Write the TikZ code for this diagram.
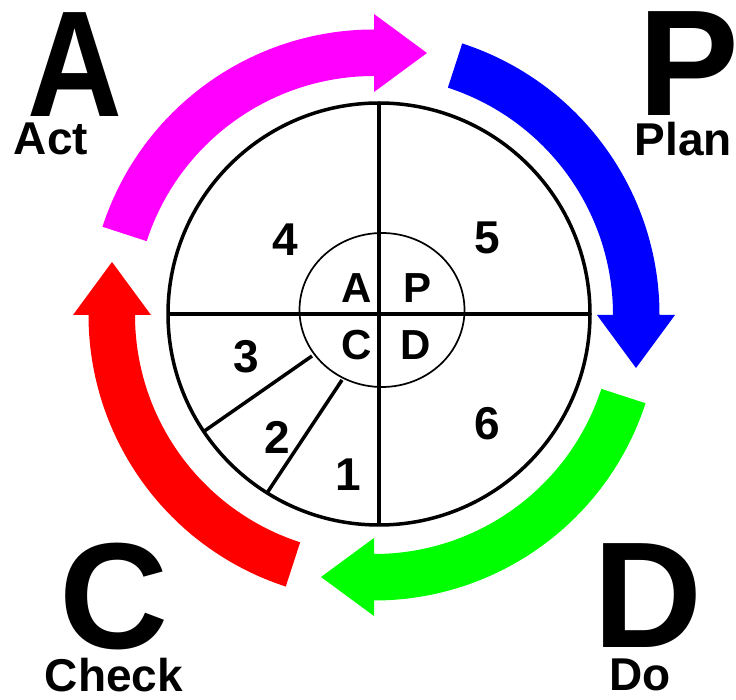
\documentclass[tikz,border=0pt]{standalone}
\usepackage{fontspec}
\setmainfont{Liberation Sans}
\usetikzlibrary{calc}
\definecolor{cM}{RGB}{255,0,255}
\definecolor{cB}{RGB}{0,0,255}
\definecolor{cG}{RGB}{0,255,0}
\definecolor{cR}{RGB}{255,0,0}
\begin{document}
\begin{tikzpicture}[x=1pt,y=1pt,
  lbl/.style={inner sep=0pt, font=\bfseries\fontsize{46}{50}\selectfont},
  quad/.style={inner sep=0pt, font=\bfseries\fontsize{42}{46}\selectfont},
  big/.style={inner sep=0pt, font=\bfseries\fontsize{151}{160}\selectfont},
  heavy/.style={line width=3.5pt},
  light/.style={line width=1.7pt}]
\useasboundingbox (0,0) rectangle (736,699);
\fill[white] (0,0) rectangle (736,699);
\coordinate (O) at (379,385);
\coordinate (I) at (382,389);
\coordinate (R) at (374,384);
% cycle arrows
\foreach \a/\c in {90/cM,0/cB,-90/cG,180/cR}{
  \begin{scope}[shift={(R)}, rotate=\a-90]
    \fill[\c] (162:285.5) arc[start angle=162,end angle=90,radius=285.5]
      -- (0,301) -- (53,262) -- (0,223) -- (0,239)
      arc[start angle=90,end angle=162,radius=239] -- cycle;
  \end{scope}
}
% wheel
\draw[heavy] (O) circle[radius=211];
\draw[heavy] ($(O)+(0,211)$) -- ($(O)+(0,-211)$);
\draw[heavy] ($(O)+(-211,0)$) -- ($(O)+(211,0)$);
\draw[light] (I) ellipse[x radius=82.5, y radius=77];
\coordinate (s1a) at (342,319);
\coordinate (s1b) at (267,206);
\coordinate (s2a) at (312,343);
\coordinate (s2b) at (203,267);
\draw[heavy] (s1a) -- (s1b);
\draw[heavy] (s2a) -- (s2b);
% numbers
\node[lbl] (n4) at (285,459) {4};
\node[lbl] (n5) at (487,461) {5};
\node[lbl] (n6) at (487,275) {6};
\node[lbl] (n1) at (348,224) {1};
\node[lbl] (n2) at (277,262) {2};
\node[lbl] (n3) at (246,342) {3};
% inner letters
\node[quad] (qa) at (357,411) {A};
\node[quad] (qp) at (418,411) {P};
\node[quad] (qc) at (357,354) {C};
\node[quad] (qd) at (416,354) {D};
% big letters
\node[big, xscale=0.87] (bA) at (75,634) {A};
\node[big] (bP) at (688.5,635.5) {P};
\node[big] (bC) at (114.5,102.5) {C};
\node[big] (bD) at (648,103) {D};
% words
\node[lbl] (wA) at (51,560.5) {Act};
\node[lbl] (wP) at (683.5,560) {Plan};
\node[lbl] (wC) at (114,24) {Check};
\node[lbl] (wD) at (640,24) {Do};
\end{tikzpicture}
\end{document}
